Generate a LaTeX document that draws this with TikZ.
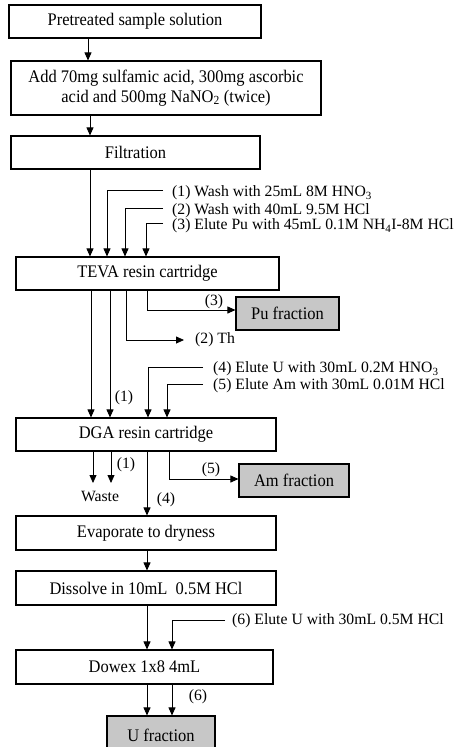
\documentclass[tikz,border=0pt]{standalone}
\usepackage{fontspec}
\setmainfont{Liberation Serif}
\newfontfamily\boxfont[FakeStretch=0.93]{Liberation Serif}
\usetikzlibrary{arrows.meta,calc}
\begin{document}
\begin{tikzpicture}[x=1pt,y=-1pt,
 box/.style={draw,line width=1.1pt,inner sep=0pt,align=center,font=\boxfont\fontsize{17.7}{20}\selectfont},
 fracbox/.style={box,fill=black!22},
 lab/.style={inner sep=0pt,font=\fontsize{15.7}{18}\selectfont},
 arr/.style={line width=0.8pt,-{Triangle[length=8pt,width=7pt]}},
 ln/.style={line width=0.8pt}]
\useasboundingbox (0,0) rectangle (462,747);
% column coordinates
\foreach \x in {88,90,91,93,107,110,111,125,126,146,147,148,167,169,172}{\coordinate (c\x) at (\x,0);}
% boxes
\node[box,minimum width=252pt,minimum height=33pt] (b1) at (135,21.5) {Pretreated sample solution};
\node[box,minimum width=310pt,minimum height=54pt] (b2) at (166,88) {Add 70mg sulfamic acid, 300mg ascorbic\\acid and 500mg NaNO\textsubscript{2} (twice)};
\node[box,minimum width=249pt,minimum height=33pt] (filt) at (135.5,152.5) {Filtration};
\node[box,minimum width=263pt,minimum height=33pt] (teva) at (147.5,273.5) {TEVA resin cartridge};
\node[fracbox,minimum width=103pt,minimum height=33pt] (pu) at (287.5,313.5) {Pu fraction};
\node[box,minimum width=260pt,minimum height=33pt] (dga) at (146,434.5) {DGA resin cartridge};
\node[fracbox,minimum width=110pt,minimum height=33pt] (am) at (294,480.5) {Am fraction};
\node[box,minimum width=260pt,minimum height=34pt] (evap) at (146,533) {Evaporate to dryness};
\node[box,minimum width=260pt,minimum height=34pt] (diss) at (146,588) {Dissolve in 10mL\ \ 0.5M HCl};
\node[box,minimum width=257pt,minimum height=34pt] (dowex) at (144.5,667) {Dowex 1x8 4mL};
\node[fracbox,minimum width=108pt,minimum height=38pt] (ufr) at (161,735) {U fraction};
% main flow
\draw[arr] (b1.south -| c88) -- (b2.north -| c88);
\draw[arr] (b2.south -| c90) -- (filt.north -| c90);
\draw[arr] (filt.south -| c90) -- (teva.north -| c90);
% TEVA inputs
\node[lab,anchor=west] (l1) at (172,193) {(1) Wash with 25mL 8M HNO\textsubscript{3}};
\node[lab,anchor=west] (l2) at (172,211) {(2) Wash with 40mL 9.5M HCl};
\node[lab,anchor=west] (l3) at (172,226) {(3) Elute Pu with 45mL 0.1M NH\textsubscript{4}I-8M HCl};
\coordinate (e1) at (163,190);
\coordinate (e2) at (163,208);
\coordinate (e3) at (163,223);
\draw[arr] (e1) -| (teva.north -| c107);
\draw[arr] (e2) -| (teva.north -| c125);
\draw[arr] (e3) -| (teva.north -| c146);
% TEVA outputs
\draw[arr] (teva.south -| c147) |- ([yshift=3.5pt]pu.west);
\node[lab] (o3) at (214,302) {(3)};
\coordinate (th) at (184,340);
\draw[arr] (teva.south -| c126) |- (th);
\node[lab,anchor=west] (thl) at (195,340) {(2) Th};
\draw[arr] (teva.south -| c91) -- (dga.north -| c91);
\draw[arr] (teva.south -| c110) -- (dga.north -| c110);
\node[lab] (o1) at (124,398) {(1)};
% DGA inputs
\node[lab,anchor=west] (l4) at (213,369) {(4) Elute U with 30mL 0.2M HNO\textsubscript{3}};
\node[lab,anchor=west] (l5) at (213,386) {(5) Elute Am with 30mL 0.01M HCl};
\coordinate (e4) at (203,367);
\coordinate (e5) at (203,384);
\draw[arr] (e4) -| (dga.north -| c148);
\draw[arr] (e5) -| (dga.north -| c167);
% DGA outputs
\coordinate (w1) at (93,483);
\coordinate (w2) at (111,483);
\draw[arr] (dga.south -| c93) -- (w1);
\draw[arr] (dga.south -| c111) -- (w2);
\node[lab] (o1b) at (126,465) {(1)};
\node[lab] (waste) at (100,496) {Waste};
\draw[arr] (dga.south -| c147) -- (evap.north -| c147);
\node[lab] (o4) at (166,500) {(4)};
\draw[arr] (dga.south -| c169) |- ([yshift=1.5pt]am.west);
\node[lab] (o5) at (211,470) {(5)};
% lower flow
\draw[arr] (evap.south -| c147) -- (diss.north -| c147);
\draw[arr] (diss.south -| c147) -- (dowex.north -| c147);
\node[lab,anchor=west] (l6) at (232,621) {(6) Elute U with 30mL 0.5M HCl};
\coordinate (e6) at (225,620);
\draw[arr] (e6) -| (dowex.north -| c172);
\draw[arr] (dowex.south -| c147) -- (ufr.north -| c147);
\draw[arr] (dowex.south -| c172) -- (ufr.north -| c172);
\node[lab] (o6) at (198,697) {(6)};
\end{tikzpicture}
\end{document}
